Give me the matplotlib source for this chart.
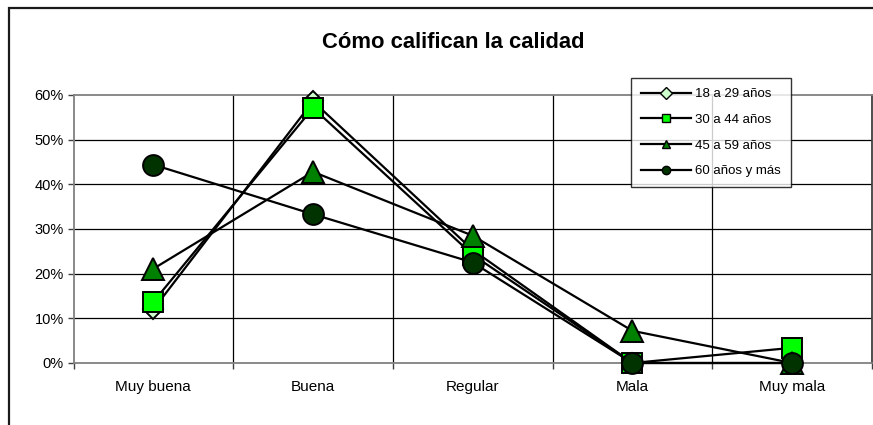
import matplotlib
matplotlib.use("Agg")
import matplotlib.pyplot as plt
from matplotlib.lines import Line2D
from matplotlib.patches import Rectangle
from matplotlib.ticker import FixedLocator

plt.rcParams['font.family'] = ['Liberation Sans', 'DejaVu Sans']

categories = ["Muy buena", "Buena", "Regular", "Mala", "Muy mala"]
series_names = ["18 a 29 años", "30 a 44 años", "45 a 59 años", "60 años y más"]
v_18_29 = [12.0, 58.6, 25.3, 0.0, 0.0]
v_30_44 = [13.7, 57.1, 24.2, 0.0, 3.4]
v_45_59 = [21.1, 42.8, 28.5, 7.2, 0.0]
v_60_mas = [44.4, 33.3, 22.5, 0.0, 0.0]
y_ticks = [0, 10, 20, 30, 40, 50, 60]
y_tick_labels = ["0%", "10%", "20%", "30%", "40%", "50%", "60%"]
title = "Cómo califican la calidad"

W, H = 873, 425
fig = plt.figure(figsize=(W / 100, H / 100), dpi=100)
fig.patch.set_facecolor("white")

# outer chart border (cropped Excel chart frame)
fig.patches.append(Rectangle((8.5 / W, -0.1), 1.2, 1 - 8.5 / H + 0.1,
                             transform=fig.transFigure, fill=False,
                             edgecolor="#1a1a1a", linewidth=1.6, zorder=0))

ax = fig.add_axes([73.5 / W, 1 - 363 / H, (872 - 73.5) / W, (363 - 95) / H])
ax.set_xlim(-0.5, 4.5)
ax.set_ylim(0, 60)

styles = [
    dict(marker="D", markerfacecolor="#CCFFCC", markersize=10.5),
    dict(marker="s", markerfacecolor="#00FF00", markersize=14),
    dict(marker="^", markerfacecolor="#008000", markersize=15.5),
    dict(marker="o", markerfacecolor="#003300", markersize=15),
]
xs = list(range(len(categories)))
for vals, name, st in zip([v_18_29, v_30_44, v_45_59, v_60_mas], series_names, styles):
    ax.plot(xs, vals, color="black", linewidth=1.6, markeredgecolor="black",
            markeredgewidth=1.4, clip_on=False, zorder=3, label=name, **st)

# gridlines
for y in y_ticks[1:-1]:
    ax.axhline(y, color="black", linewidth=0.9, zorder=1)
for x in [0.5, 1.5, 2.5, 3.5]:
    ax.axvline(x, color="black", linewidth=0.9, zorder=1)

for s in ["left", "bottom", "top", "right"]:
    ax.spines[s].set_color("#808080")
    ax.spines[s].set_linewidth(1.3)
ax.spines["right"].set_color("#404040")

ax.set_yticks(y_ticks)
ax.set_yticklabels(y_tick_labels)
ax.set_xticks(xs)
ax.set_xticklabels(categories)
ax.xaxis.set_minor_locator(FixedLocator([-0.5, 0.5, 1.5, 2.5, 3.5, 4.5]))
ax.tick_params(axis="x", which="major", length=0, pad=12, labelsize=11)
ax.tick_params(axis="x", which="minor", length=4, width=1, color="#404040", direction="out")
ax.tick_params(axis="y", length=4, width=1, color="#404040", pad=3, labelsize=10.5)

fig.text(453 / W, 1 - 42 / H, title, ha="center", va="center",
         fontsize=15.8, fontweight="bold")

handles = []
for name, st in zip(series_names, styles):
    st2 = dict(st)
    st2["markersize"] = 6
    handles.append(Line2D([0], [0], color="black", linewidth=1.6,
                          markeredgecolor="black", markeredgewidth=1.0, **st2))
leg = fig.legend(handles, series_names, loc="upper left",
                 bbox_to_anchor=(631 / W, 1 - 78 / H),
                 fontsize=9.5, frameon=True, fancybox=False, shadow=False,
                 handlelength=3.8, handletextpad=0.3, labelspacing=1.02,
                 borderpad=0.75, borderaxespad=0)
leg.get_frame().set_edgecolor("black")
leg.get_frame().set_linewidth(1.0)

fig.savefig("out.png", dpi=100, facecolor="white")
